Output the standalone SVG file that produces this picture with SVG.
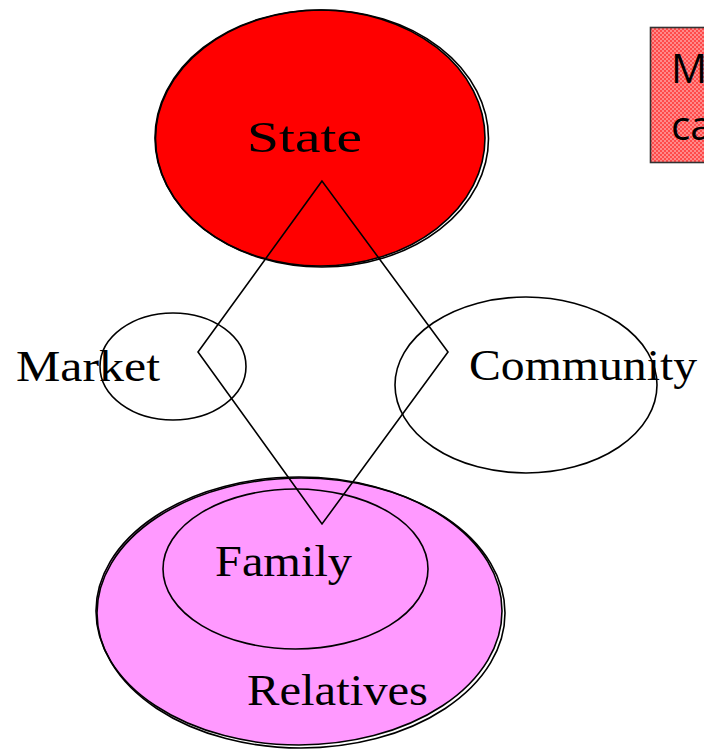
<svg xmlns="http://www.w3.org/2000/svg" width="704" height="752" viewBox="0 0 704 752">
<defs>
<pattern id="dots" width="4" height="4" patternUnits="userSpaceOnUse">
<rect width="4" height="4" fill="#ff4a4a"/>
<rect x="0" y="0" width="2" height="2" fill="#ff8a8a"/>
<rect x="2" y="2" width="2" height="2" fill="#ff8a8a"/>
</pattern>
</defs>
<style>
.ln{fill:none;stroke:#000;stroke-width:1.6}
.lbl{font-family:"Liberation Serif","DejaVu Serif",serif;font-size:44px;fill:#000}
.note{font-family:"Open Sans","Liberation Sans",sans-serif;font-size:40px;fill:#000}
</style>
<rect width="704" height="752" fill="#fff"/>
<g id="note">
<rect x="650.5" y="27.5" width="70" height="135" fill="url(#dots)" stroke="#333" stroke-width="1.6"/>
<text class="note" x="671" y="83">M</text>
<text class="note" x="671" y="140">ca</text>
</g>
<g id="state">
<ellipse cx="320" cy="138" rx="165" ry="128" fill="#ff0000" stroke="#000" stroke-width="1.6"/>
<ellipse class="ln" cx="322" cy="138.5" rx="166.5" ry="128.5"/>
<text class="lbl" x="247" y="152" font-size="47" textLength="115" lengthAdjust="spacingAndGlyphs">State</text>
</g>
<g id="relatives">
<ellipse cx="299" cy="611" rx="203" ry="134" fill="#ff99ff" stroke="#000" stroke-width="1.6"/>
<ellipse class="ln" cx="301" cy="613" rx="204" ry="135"/>
<text class="lbl" x="247" y="705" textLength="181" lengthAdjust="spacingAndGlyphs">Relatives</text>
</g>
<g id="family">
<ellipse class="ln" cx="295.5" cy="569" rx="132.5" ry="80"/>
<text class="lbl" x="215" y="576" textLength="137" lengthAdjust="spacingAndGlyphs">Family</text>
</g>
<g id="market">
<ellipse class="ln" cx="173" cy="366.5" rx="73" ry="53.5"/>
<text class="lbl" x="16" y="381" textLength="144" lengthAdjust="spacingAndGlyphs">Market</text>
</g>
<g id="community">
<ellipse class="ln" cx="526" cy="385" rx="131" ry="88"/>
<text class="lbl" x="469" y="380" textLength="228" lengthAdjust="spacingAndGlyphs">Community</text>
</g>
<g id="connectors">
<polygon class="ln" points="322,181 198,352 322,524 448,352"/>
</g>
</svg>
